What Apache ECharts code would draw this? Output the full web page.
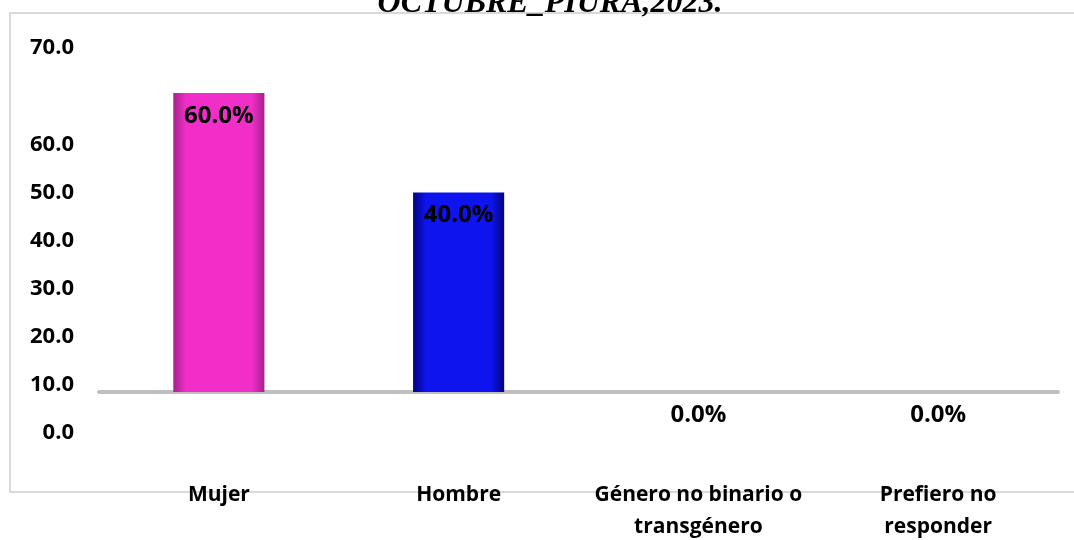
<!DOCTYPE html>
<html>
<head>
<meta charset="utf-8">
<script src="https://cdn.jsdelivr.net/npm/echarts@6/dist/echarts.min.js"></script>
<style>
  html, body { margin: 0; padding: 0; background: #fff; }
  #chart { width: 1074px; height: 540px; }
</style>
</head>
<body>
<div id="chart"></div>
<script>
// datos
const categories = ['Mujer', 'Hombre', 'Género no binario o\ntransgénero', 'Prefiero no\nresponder']
const values = [60.0, 40.0, 0.0, 0.0]
// etiquetas del eje tal como aparecen (desalineadas en el original)
const yLabels = ['0.0', '10.0', '20.0', '30.0', '40.0', '50.0', '60.0', '', '70.0']
const titleText = 'OCTUBRE_PIURA,2023.'

const font = '"Open Sans", "Noto Sans", sans-serif'

function barGrad (dark, light) {
  return new echarts.graphic.LinearGradient(0, 0, 1, 0, [
    { offset: 0, color: dark },
    { offset: 0.14, color: light },
    { offset: 0.86, color: light },
    { offset: 1, color: dark }
  ])
}
const barColors = [
  barGrad('#a3228c', '#f22ec9'),
  barGrad('#04047e', '#0d14ee'),
  '#cccccc',
  '#cccccc'
]

const chart = echarts.init(document.getElementById('chart'))
chart.setOption({
  animation: false,
  title: {
    text: titleText,
    left: 545,
    top: -17,
    textAlign: 'center',
    textStyle: {
      fontFamily: '"Liberation Serif", serif',
      fontStyle: 'italic',
      fontWeight: 'bold',
      fontSize: 32,
      color: '#000'
    }
  },
  graphic: [{
    type: 'rect',
    z: -1,
    shape: { x: 10, y: 13, width: 1080, height: 479 },
    style: { fill: 'none', stroke: '#d9d9d9', lineWidth: 2 }
  }],
  grid: { left: 99, right: 16, top: 48, bottom: 107, containLabel: false, outerBoundsMode: 'none' },
  xAxis: {
    type: 'category',
    data: categories,
    axisLine: { onZero: true, lineStyle: { color: '#bfbfbf', width: 4 } },
    axisTick: { show: false },
    axisLabel: {
      margin: 46,
      interval: 0,
      fontFamily: font,
      fontWeight: 'bold',
      fontSize: 21,
      lineHeight: 32,
      color: '#000'
    }
  },
  yAxis: [{
    type: 'value',
    min: -8.2,
    max: 69,
    show: false
  }, {
    type: 'category',
    data: yLabels,
    position: 'left',
    boundaryGap: false,
    axisLine: { show: false },
    axisTick: { show: false },
    splitLine: { show: false },
    axisLabel: {
      margin: 25,
      interval: 0,
      fontFamily: font,
      fontWeight: 'bold',
      fontSize: 22,
      color: '#000'
    }
  }],
  series: [{
    type: 'bar',
    yAxisIndex: 0,
    barWidth: '38%',
    data: values.map((v, i) => ({ value: v, itemStyle: { color: barColors[i] } })),
    label: {
      show: true,
      position: 'insideTop',
      distance: 11,
      formatter: p => p.value.toFixed(1) + '%',
      fontFamily: font,
      fontWeight: 'bold',
      fontSize: 24,
      color: '#000'
    }
  }]
})
</script>
</body>
</html>
